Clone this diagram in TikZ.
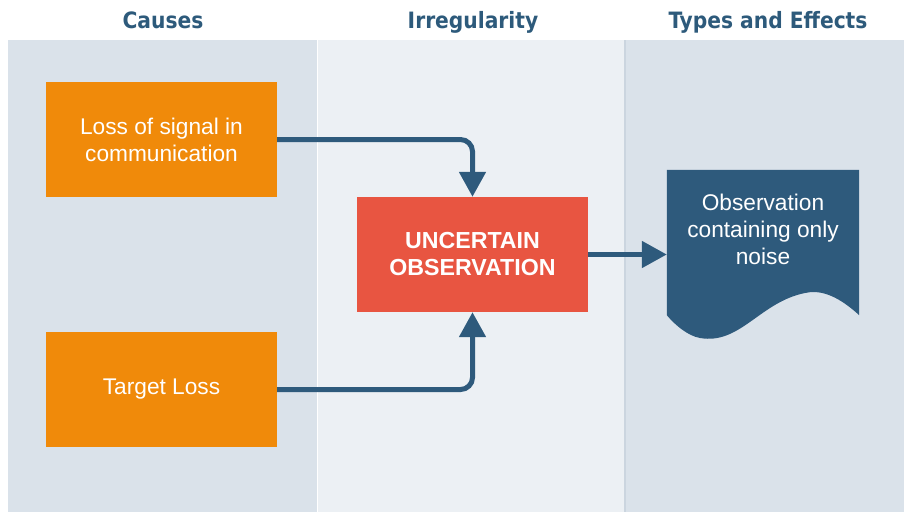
\documentclass[tikz,border=0pt]{standalone}
\usepackage{fontspec}
\setmainfont{Liberation Sans}
\newfontfamily\headfont{DejaVu Sans Condensed}
\usetikzlibrary{positioning,arrows.meta}

\definecolor{lanedark}{HTML}{DAE2EA}
\definecolor{lanelight}{HTML}{ECF0F4}
\definecolor{lanesep}{HTML}{CBD5DF}
\definecolor{headblue}{HTML}{2D5A7B}
\definecolor{causeorange}{HTML}{F08A0A}
\definecolor{eventred}{HTML}{E85541}
\definecolor{docblue}{HTML}{2E5A7C}

\begin{document}
\begin{tikzpicture}[x=1pt, y=-1pt,
    >={Triangle[width=26pt,length=25pt]},
    lanehead/.style={anchor=base, font=\headfont\bfseries\fontsize{22.5}{26}\selectfont, text=headblue},
    box/.style={rectangle, minimum width=231pt, minimum height=115pt, inner sep=0pt,
                align=center, text=white, font=\fontsize{22.7}{27}\selectfont},
    cause/.style={box, fill=causeorange},
    event/.style={box, fill=eventred, font=\bfseries\fontsize{23.2}{27}\selectfont},
    flow/.style={->, draw=docblue, line width=5pt, rounded corners=12pt}]

  \useasboundingbox (0,0) rectangle (904,514);

  % swimlanes
  \fill[lanedark]  (8,40)   rectangle (317,512);
  \fill[lanelight] (318,40) rectangle (624,512);
  \fill[lanesep]   (624,40) rectangle (626,512);
  \fill[lanedark]  (626,40) rectangle (904,512);

  \node[lanehead] (hcause) at (163,28) {Causes};
  \node[lanehead] (hirreg) at (473,28) {Irregularity};
  \node[lanehead] (htypes) at (768,28) {Types and Effects};

  % boxes
  \node[cause] (signal) at (161.5,139.5) {Loss of signal in\\communication};
  \node[cause] (target) at (161.5,389.5) {Target Loss};
  \node[event] (uncert) at (472.5,254.5) {UNCERTAIN\\OBSERVATION};

  % document shape
  \node[rectangle, minimum width=192pt, minimum height=145pt, inner sep=0pt] (doc) at (763,242.5) {};
  \fill[docblue] (doc.north west) -- (doc.north east) -- (doc.south east)
    .. controls (835,293) and (818,290) .. (805,293)
    .. controls (760,302) and (740,345) .. (700,338)
    .. controls (688,336) and (675,325) .. (doc.south west) -- cycle;
  \node[align=center, text=white, font=\fontsize{22.7}{27}\selectfont] (doctext) at (763,229)
    {Observation\\containing only\\noise};

  % connectors
  \draw[flow] (signal.east) -| (uncert.north);
  \draw[flow] (target.east) -| (uncert.south);
  \draw[flow] (uncert.east) -- (uncert.east -| doc.west);

\end{tikzpicture}
\end{document}
